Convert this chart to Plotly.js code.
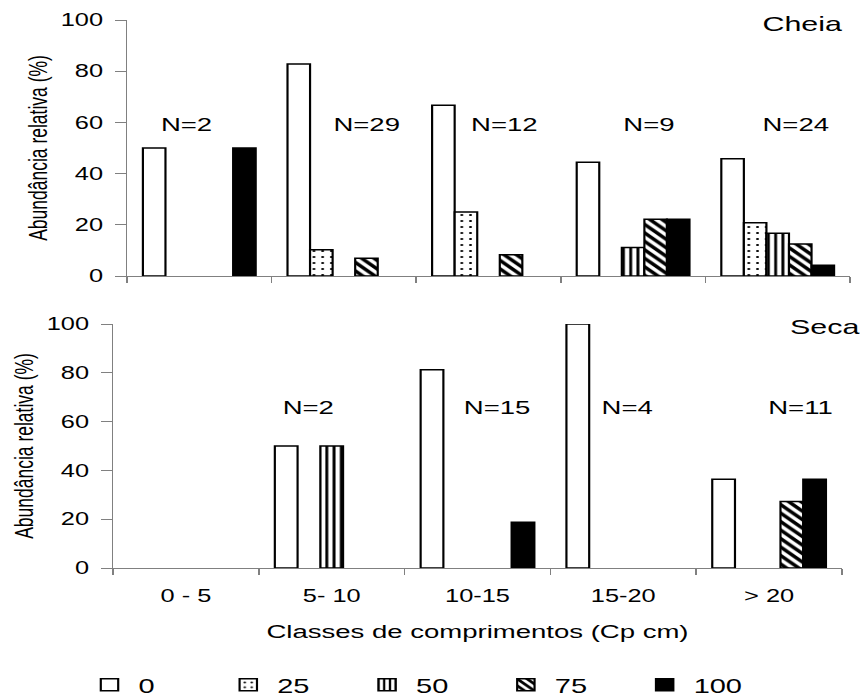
<!DOCTYPE html>
<html><head><meta charset="utf-8">
<script src="https://cdn.plot.ly/plotly-3.0.1.min.js"></script>
<style>
html,body{margin:0;padding:0;overflow:hidden;background:#fff}
#wrap{width:594px;height:696px;transform:scaleX(1.4495);transform-origin:0 0}
</style></head><body>
<div id="wrap"><div id="chart"></div></div>
<script>
// ---- data ----
const categories = ["0 - 5", "5- 10", "10-15", "15-20", "> 20"];
const seriesNames = ["0", "25", "50", "75", "100"];
// Cheia (flood season)
const cheia0   = [50, 82.8, 66.7, 44.4, 45.8];
const cheia25  = [null, 10.3, 25.0, null, 20.8];
const cheia50  = [null, null, null, 11.1, 16.7];
const cheia75  = [null, 6.9, 8.3, 22.2, 12.5];
const cheia100 = [50, null, null, 22.2, 4.2];
// Seca (dry season)
const seca0   = [null, 50, 81.3, 100, 36.4];
const seca25  = [null, null, null, null, null];
const seca50  = [null, 50, null, null, null];
const seca75  = [null, null, null, null, 27.3];
const seca100 = [null, null, 18.7, null, 36.4];
// sample sizes
const nCheia = ["N=2", "N=29", "N=12", "N=9", "N=24"];
const nSeca  = ["N=2", "N=15", "N=4", "N=11"];
const yTicks = [0, 20, 40, 60, 80, 100];

// ---- styles ----
const FONT = "Liberation Sans, Arial, sans-serif";
const AXC = "#808080";
const styles = [
  {color: "#ffffff"},
  {color: "#ffffff", pattern: {shape: ".", size: 6, solidity: 0.1, fgcolor: "#000", bgcolor: "#fff", fillmode: "replace"}},
  {color: "#ffffff", pattern: {shape: "|", size: 5, solidity: 0.4, fgcolor: "#000", bgcolor: "#fff", fillmode: "replace"}},
  {color: "#ffffff", pattern: {shape: "\\", size: 6, solidity: 0.5, fgcolor: "#000", bgcolor: "#fff", fillmode: "replace"}},
  {color: "#000000"}
];
const topSeries = [cheia0, cheia25, cheia50, cheia75, cheia100];
const botSeries = [seca0, seca25, seca50, seca75, seca100];

const traces = [];
seriesNames.forEach((nm, i) => {
  const mk = Object.assign({line: {color: "#000", width: 1.5}}, styles[i]);
  traces.push({type: "bar", name: nm, x: categories, y: topSeries[i], xaxis: "x", yaxis: "y",
    marker: mk, legendgroup: nm, showlegend: true, hoverinfo: "skip"});
  traces.push({type: "bar", name: nm, x: categories, y: botSeries[i], xaxis: "x2", yaxis: "y2",
    marker: mk, legendgroup: nm, showlegend: false, hoverinfo: "skip"});
});

const tickFont = {family: FONT, size: 17.5, color: "#000"};
const ytitleFont = {family: FONT, size: 17.5, color: "#000"};
const xtitleFont = {family: FONT, size: 19, color: "#000"};
const annFont = {family: FONT, size: 19, color: "#000"};

function xAx(domain, anchor, labels) {
  return {domain: domain, anchor: anchor, type: "category", range: [-0.5, 4.5],
    showline: true, linecolor: AXC, linewidth: 1, ticks: "outside", tickson: "boundaries",
    ticklen: 6, tickcolor: AXC, tickwidth: 1, showgrid: false, zeroline: false,
    showticklabels: labels, tickfont: tickFont, ticklabelstandoff: 12, fixedrange: true};
}
function yAx(domain, anchor) {
  return {domain: domain, anchor: anchor, range: [0, 100], tickvals: yTicks,
    showline: true, linecolor: AXC, linewidth: 1, ticks: "outside", ticklen: 7,
    tickcolor: AXC, tickwidth: 1, showgrid: false, zeroline: false, tickfont: tickFont,
    ticklabelstandoff: 5, fixedrange: true,
    title: {text: "Abundância relativa (%)", font: ytitleFont, standoff: 4}};
}

const topPos = [-0.092, 1.16, 2.114, 3.11, 4.12];
const botPos = [0.837, 2.134, 3.025, 4.219];
const annotations = [];
nCheia.forEach((t, i) => annotations.push({xref: "x", yref: "y", x: topPos[i], y: 59, text: t,
  showarrow: false, font: annFont}));
nSeca.forEach((t, i) => annotations.push({xref: "x2", yref: "y2", x: botPos[i], y: 65.6, text: t,
  showarrow: false, font: annFont}));
annotations.push({xref: "x", yref: "y", x: 4.17, y: 98.8, text: "Cheia", showarrow: false,
  font: {family: FONT, size: 21, color: "#000"}});
annotations.push({xref: "x2", yref: "y2", x: 4.377, y: 98.8, text: "Seca", showarrow: false,
  font: {family: FONT, size: 21, color: "#000"}});

const xb = xAx([113/861, 842/861], "y2", true);
xb.title = {text: "Classes de comprimentos (Cp cm)", font: xtitleFont, standoff: 19};

const layout = {
  width: 594, height: 696,
  margin: {l: 0, r: 0, t: 0, b: 0, autoexpand: false},
  paper_bgcolor: "#fff", plot_bgcolor: "rgba(0,0,0,0)",
  barmode: "group", bargap: 0.22, bargroupgap: 0,
  font: {family: FONT, color: "#000"},
  xaxis: xAx([127/861, 850/861], "y", false),
  yaxis: yAx([1 - 276/696, 1 - 20/696], "x"),
  xaxis2: xb,
  yaxis2: yAx([1 - 568/696, 1 - 324/696], "x2"),
  legend: {orientation: "h", x: 0.0935, xanchor: "left", y: 0.016, yanchor: "middle",
    font: {family: FONT, size: 20, color: "#000"}, entrywidth: 50.75, entrywidthmode: "pixels",
    itemwidth: 30, traceorder: "normal", bgcolor: "rgba(0,0,0,0)"},
  annotations: annotations,
  showlegend: true
};

Plotly.newPlot("chart", traces, layout, {displayModeBar: false, staticPlot: true});
</script>
</body></html>
